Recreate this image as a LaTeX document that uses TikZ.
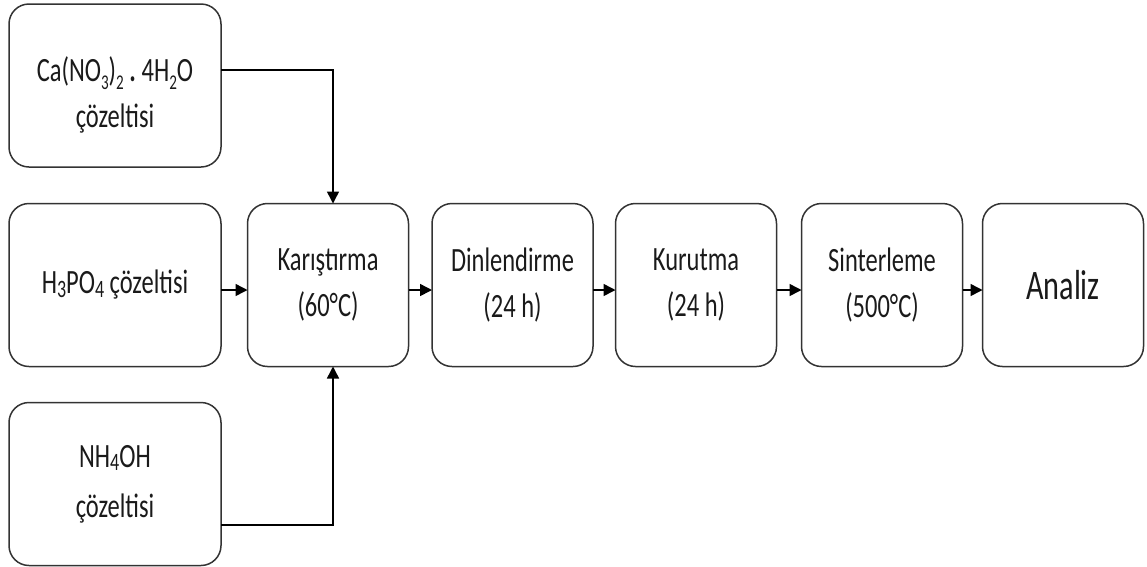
\documentclass[tikz,border=0pt]{standalone}
\usepackage{fontspec}
\setmainfont{Carlito}[FakeStretch=0.72]
\usetikzlibrary{arrows.meta,calc}
\newcommand\chsub[1]{\raisebox{-0.22em}{\fontsize{21}{21}\selectfont #1}}
\newcommand\lowsub[1]{\raisebox{-0.1em}{\fontsize{25}{25}\selectfont #1}}
\definecolor{txt}{HTML}{1A1A1A}
\definecolor{edge}{HTML}{333333}
\tikzset{
  box/.style={draw=edge, line width=1.5pt, rounded corners=20pt, inner sep=0pt, outer sep=0pt,
    minimum height=163pt, align=center, text=txt, font=\fontsize{34}{46}\selectfont},
  wide/.style={box, minimum width=212pt},
  narrow/.style={box, minimum width=161pt},
  arr/.style={line width=1.5pt, -{Triangle[length=12pt,width=12pt]}},
  lbl/.style={inner sep=0pt, align=center, text=txt, font=\fontsize{34}{46}\selectfont}
}
\begin{document}
\begin{tikzpicture}[x=1pt,y=-1pt]
\useasboundingbox (0,0) rectangle (1147,566);
\node[wide] (b1) at (115,85.5) {};
\node[lbl] (t1) at (115,95) {Ca(NO\chsub{3})\chsub{2}\,{\bfseries .}\,4H\chsub{2}O\\çözeltisi};
\node[wide] (b2) at (115,285) {H\lowsub{3}PO\lowsub{4} çözeltisi};
\node[wide] (b3) at (115,484) {NH\lowsub{4}OH\\[4pt]çözeltisi};
\node[narrow] (mix) at (328,285) {Karıştırma\\(60°C)};
\node[narrow] (din) at (512.5,285) {Dinlendirme\\(24 h)};
\node[narrow] (kur) at (696,285) {Kurutma\\(24 h)};
\node[narrow] (sin) at (882,285) {Sinterleme\\(500°C)};
\node[narrow, font=\fontsize{42}{46}\selectfont] (ana) at (1063,285) {Analiz};
\draw[arr] ([yshift=15.5pt]b1.east) -| ([xshift=5pt]mix.north);
\draw[arr] ([yshift=-41pt]b3.east) -| ([xshift=5pt]mix.south);
\draw[arr] ([yshift=-5pt]b2.east) -- ([yshift=-5pt]mix.west);
\draw[arr] ([yshift=-5pt]mix.east) -- ([yshift=-5pt]din.west);
\draw[arr] ([yshift=-5pt]din.east) -- ([yshift=-5pt]kur.west);
\draw[arr] ([yshift=-5pt]kur.east) -- ([yshift=-5pt]sin.west);
\draw[arr] ([yshift=-5pt]sin.east) -- ([yshift=-5pt]ana.west);
\end{tikzpicture}
\end{document}
